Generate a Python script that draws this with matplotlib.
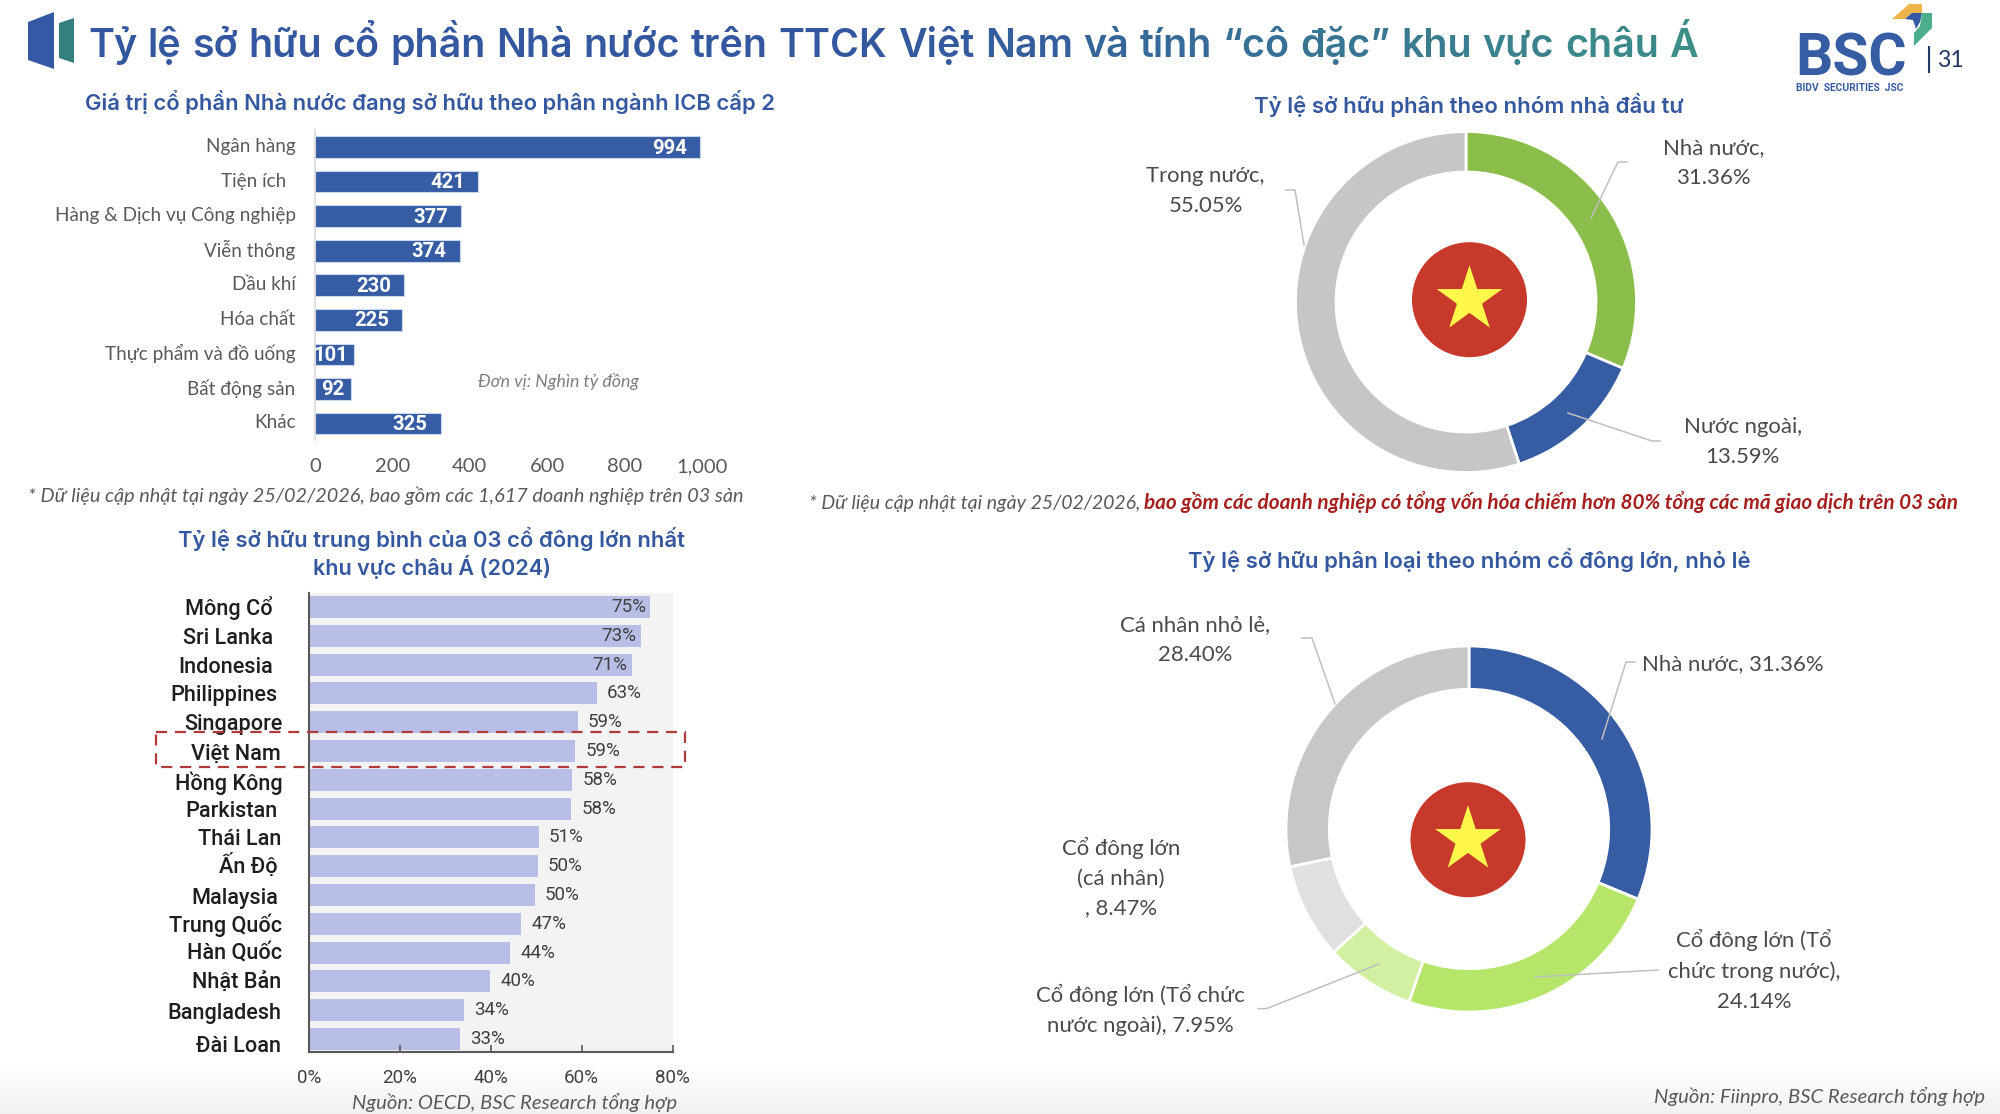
import numpy as np
import matplotlib
matplotlib.use("Agg")
import matplotlib.pyplot as plt
from matplotlib.patches import Polygon, Circle, Rectangle
from matplotlib.colors import to_rgb
from matplotlib.transforms import ScaledTranslation, IdentityTransform

W, H = 2000, 1114
plt.rcParams['font.family'] = ['Lato', 'Noto Sans', 'DejaVu Sans']
HEAD = ['Inter', 'Noto Sans']
COND = ['Roboto', 'Noto Sans']

# ---------- data ----------
title_text = "Tỷ lệ sở hữu cổ phần Nhà nước trên TTCK Việt Nam và tính “cô đặc” khu vực châu Á"

sector_names = ["Ngân hàng", "Tiện ích  ", "Hàng & Dịch vụ Công nghiệp", "Viễn thông", "Dầu khí",
                "Hóa chất", "Thực phẩm và đồ uống", "Bất động sản", "Khác"]
sector_values = [994, 421, 377, 374, 230, 225, 101, 92, 325]
sector_ticks = [0, 200, 400, 600, 800, 1000]

countries = ["Mông Cổ", "Sri Lanka", "Indonesia", "Philippines", "Singapore", "Việt Nam", "Hồng Kông",
             "Parkistan", "Thái Lan", "Ấn Độ", "Malaysia", "Trung Quốc", "Hàn Quốc", "Nhật Bản",
             "Bangladesh", "Đài Loan"]
top3_share = [75.0, 73.0, 71.0, 63.3, 59.2, 58.6, 57.9, 57.7, 50.6, 50.4, 49.7, 46.7, 44.3, 39.9, 34.1, 33.2]
share_ticks = [0, 20, 40, 60, 80]

investor_values = [31.36, 13.59, 55.05]
holder_values = [31.36, 24.14, 7.95, 8.47, 28.40]

# ---------- style ----------
BLUE = '#365CA4'
SUB = '#34589F'
GREY = '#595959'
investor_colors = ['#8BBD4B', BLUE, '#C6C6C8']
holder_colors = [BLUE, '#B5E66A', '#D2F0A2', '#E0E0E1', '#C7C7C9']

fig = plt.figure(figsize=(W / 100, H / 100), dpi=100, facecolor='white')
renderer = fig.canvas.get_renderer()


def rect(x0, y0, x1, y1):
    return [x0 / W, 1 - y1 / H, (x1 - x0) / W, (y1 - y0) / H]


# subtle grey fade at the foot of the slide
bg = fig.add_axes([0, 0, 1, 1], zorder=-5)
bg.axis('off')
fade = np.ones((H, 1))
fade[1060:, 0] = np.linspace(1.0, 0.945, H - 1060)
bg.imshow(fade, cmap='gray', vmin=0, vmax=1, aspect='auto')

# ---------- bar chart: sectors ----------
step = (423.5 - 147) / 8
ax1 = fig.add_axes(rect(315, 130, 702, 440), zorder=1)
ax1.set_xlim(0, 1000)
ax1.set_ylim(8 + (440 - 423.5) / step, -(147 - 130) / step)
ypos = np.arange(len(sector_values))
ax1.barh(ypos, sector_values, height=21.7 / step, color=BLUE, edgecolor='#C9D6EE', linewidth=0.8)
ax1.set_yticks(ypos, sector_names, fontsize=13.6, color=GREY)
ax1.set_xticks(sector_ticks, [f"{t:,}" for t in sector_ticks], fontsize=14.5, color=GREY)
ax1.tick_params(axis='both', length=0)
ax1.tick_params(axis='y', pad=14)
ax1.tick_params(axis='x', pad=13)
for lab in ax1.get_yticklabels():
    lab.set_transform(lab.get_transform() + ScaledTranslation(0, 2 / 100, fig.dpi_scale_trans))
for s in ['top', 'right', 'bottom']:
    ax1.spines[s].set_visible(False)
ax1.spines['left'].set_color('#D9D9D9')
ax1.spines['left'].set_linewidth(1.2)
for y, v in zip(ypos, sector_values):
    off = -13 if v > 150 else -6
    ax1.annotate(f"{v}", (v, y), xytext=(off, -1), textcoords='offset pixels', ha='right',
                 va='center', color='white', fontsize=14.6, fontweight='bold', family=COND)

# ---------- bar chart: top 3 share ----------
step2 = (1039 - 607) / 15
ax2 = fig.add_axes(rect(309, 593, 672.5, 1052), zorder=1, facecolor='#F3F3F3')
ax2.set_xlim(0, 80)
ax2.set_ylim(15 + (1052 - 1039) / step2, -(607 - 593) / step2)
ypos2 = np.arange(len(top3_share))
ax2.barh(ypos2, top3_share, height=22 / step2, color='#B8BEE6')
ax2.set_xticks(share_ticks, [f"{t}%" for t in share_ticks], fontsize=13.5, color='#404040', family=COND)
ax2.set_yticks([])
ax2.tick_params(axis='x', direction='in', length=5, color=GREY, pad=12, width=1.2)
for s in ['top', 'right']:
    ax2.spines[s].set_visible(False)
for s in ['left', 'bottom']:
    ax2.spines[s].set_color(GREY)
    ax2.spines[s].set_linewidth(1.5)
for y, v in zip(ypos2, top3_share):
    label = f"{v:.0f}%"
    if v > 70:
        ax2.annotate(label, (v, y), xytext=(-4, 0), textcoords='offset pixels', ha='right', va='center',
                     fontsize=13.5, color='#404040', family=COND)
    else:
        ax2.annotate(label, (v, y), xytext=(10, 0), textcoords='offset pixels', ha='left', va='center',
                     fontsize=13.5, color='#404040', family=COND)
label_right = [273, 273, 273, 277, 283, 281, 283, 278, 281, 278, 278, 282, 282, 281, 281, 281]
label_dy = [0, 2, 2, 1, 1, 2, 2, 2, 1, -1, 2, 0, 0, 1, 2, 6]
for y, name, xr, dy in zip(ypos2, countries, label_right, label_dy):
    ax2.annotate(name, (0, y), xytext=(xr - 309, -dy - 1), textcoords='offset pixels', ha='right', va='center',
                 fontsize=15.6, fontweight='medium', color='#1E1E1E', annotation_clip=False, family=COND)


# ---------- donuts ----------
def donut(cx, cy, R, r, values, colors):
    ax = fig.add_axes(rect(cx - R, cy - R, cx + R, cy + R), zorder=1)
    ax.pie(values, colors=colors, startangle=90, counterclock=False, radius=1,
           wedgeprops=dict(width=(R - r) / R, edgecolor='white', linewidth=2))
    ax.set_xlim(-1, 1)
    ax.set_ylim(-1, 1)
    return ax


donut(1466, 302, 170.5, 130, investor_values, investor_colors)
donut(1469, 829, 183, 139.7, holder_values, holder_colors)

# ---------- overlay in pixel coordinates ----------
ov = fig.add_axes([0, 0, 1, 1], zorder=5)
ov.set_xlim(0, W)
ov.set_ylim(H, 0)
ov.axis('off')
ov.patch.set_alpha(0)


def txt(x, y, s, size, w=None, ha='left', color='#404040', **kw):
    t = ov.text(x, y, s, fontsize=size, ha=ha, va='baseline', color=color, **kw)
    if w is not None:
        cur = t.get_window_extent(renderer).width
        size = size * w / cur
        t.set_fontsize(size)
    t.set_y(y + 0.36 * size * 100 / 72)
    return t


def flag(cx, cy, rc=57.5, rs=34.5):
    ov.add_patch(Circle((cx, cy), rc, color='#C73A2B', lw=0))
    ang = np.deg2rad(90 + 36 * np.arange(10))
    rad = np.where(np.arange(10) % 2 == 0, rs, rs * 0.382)
    ov.add_patch(Polygon(np.c_[cx + rad * np.cos(ang), cy - rad * np.sin(ang)], color='#FFF84A', lw=0))


flag(1469.5, 299.7)
flag(1468, 839.7)

for pts in [[(1627, 162), (1618, 162), (1591, 218)],
            [(1286, 190), (1295, 190), (1304, 245)],
            [(1568, 413), (1652, 441), (1660, 441)],
            [(1302, 638), (1312, 638), (1335, 704)],
            [(1635, 662), (1626, 662), (1602, 739)],
            [(1658, 970), (1535, 977)],
            [(1258, 1008.6), (1266.6, 1008.6), (1379, 964)]]:
    xs, ys = zip(*pts)
    ov.plot(xs, ys, color='#BFBFBF', lw=1.1)

# title icon
ov.add_patch(Polygon([(28, 22), (54, 12), (54, 69), (28, 60)], color='#3559A5', lw=0))
ov.add_patch(Polygon([(59, 23), (74, 18), (74, 63), (59, 58)], color='#33807F', lw=0))

# title with blue-to-teal wording
c0, c1 = np.array(to_rgb('#33589F')), np.array(to_rgb('#3C9088'))
words = title_text.split(' ')
title_size = 29.0
tkw = dict(fontweight='semibold', family=HEAD)
probe = ov.text(0, 0, title_text, fontsize=title_size, **tkw)
title_size *= 1598 / probe.get_window_extent(renderer).width
probe.set_fontsize(title_size)
full = probe.get_window_extent(renderer).width
probe.remove()
X0 = 88.0
x = X0
for i, word in enumerate(words):
    f = max(0.0, (x - X0 - 0.5 * full) / (0.5 * full))
    ov.text(x, 57, word, fontsize=title_size, color=c0 + (c1 - c0) * f, va='baseline', **tkw)
    m = ov.text(0, 0, ' '.join(words[:i + 1]) + ' |', fontsize=title_size, **tkw)
    b = ov.text(0, 0, '|', fontsize=title_size, **tkw)
    x = X0 + m.get_window_extent(renderer).width - b.get_window_extent(renderer).width + 0.8 * (i + 1)
    m.remove()
    b.remove()

# sub-titles
skw = dict(color=SUB, fontweight='semibold', family=HEAD)
txt(84.7, 102, "Giá trị cổ phần Nhà nước đang sở hữu theo phân ngành ICB cấp 2", 16, w=690, **skw)
txt(432, 539, "Tỷ lệ sở hữu trung bình của 03 cổ đông lớn nhất", 16, w=508, ha='center', **skw)
txt(432, 567, "khu vực châu Á (2024)", 16, w=238, ha='center', **skw)
txt(1469, 105, "Tỷ lệ sở hữu phân theo nhóm nhà đầu tư", 16, w=429, ha='center', **skw)
txt(1469, 560.5, "Tỷ lệ sở hữu phân loại theo nhóm cổ đông lớn, nhỏ lẻ", 16, w=562, ha='center', **skw)

# notes
txt(28, 495, "* Dữ liệu cập nhật tại ngày 25/02/2026, bao gồm các 1,617 doanh nghiệp trên 03 sàn", 13, w=714, color=GREY, style='italic')
txt(478, 381, "Đơn vị: Nghìn tỷ đồng", 11, w=161, color='#7F7F7F', style='italic')
txt(352, 1102, "Nguồn: OECD, BSC Research tổng hợp", 13, w=325, color=GREY, style='italic')
txt(809, 502, "* Dữ liệu cập nhật tại ngày 25/02/2026,", 13, w=331, color=GREY, style='italic')
txt(1144, 502, "bao gồm các doanh nghiệp có tổng vốn hóa chiếm hơn 80% tổng các mã giao dịch trên 03 sàn", 13, w=814,
    color='#A6201E', style='italic', fontweight='bold')
txt(1985, 1096, "Nguồn: Fiinpro, BSC Research tổng hợp", 13, w=330, ha='right', color=GREY, style='italic')

# donut labels
LBL = 15.9
for x_, y_, s in [(1714, 146, "Nhà nước,"), (1714, 176, "31.36%"),
                  (1205.5, 174, "Trong nước,"), (1205.5, 204, "55.05%"),
                  (1742.6, 425, "Nước ngoài,"), (1742.6, 455, "13.59%"),
                  (1195, 623, "Cá nhân nhỏ lẻ,"), (1195, 653, "28.40%"),
                  (1121, 847, "Cổ đông lớn"), (1121, 877, "(cá nhân)"), (1121, 906, ", 8.47%"),
                  (1754, 939, "Cổ đông lớn (Tổ"), (1754, 969.6, "chức trong nước),"), (1754, 1000, "24.14%"),
                  (1140, 994, "Cổ đông lớn (Tổ chức"), (1140, 1023.6, "nước ngoài), 7.95%")]:
    txt(x_, y_, s, LBL, ha='center', color='#4A4A4A')
txt(1642, 662, "Nhà nước, 31.36%", LBL, ha='left', color='#4A4A4A')

# logo
ov.add_patch(Polygon([(1892, 19), (1909, 4), (1922, 4), (1922, 13), (1912, 13), (1905, 19)], color='#EDB44A', lw=0))
ov.add_patch(Polygon([(1905, 19), (1912, 13), (1922, 13), (1920, 22), (1916, 29), (1913, 20)], color='#3559A5', lw=0))
ov.add_patch(Polygon([(1922, 13), (1932, 13), (1932, 28), (1914, 46), (1914, 33), (1920, 26)], color='#4DAE8B', lw=0))
t = ov.text(1795, 75, "BSC", fontsize=44, fontweight='bold', color=BLUE, ha='left', va='baseline', family=COND)
t.set_fontsize(44 * 112 / t.get_window_extent(renderer).width)
txt(1796, 87, "BIDV  SECURITIES  JSC", 6, w=108, color=BLUE, fontweight='bold', family=COND)
ov.plot([1929, 1929], [47, 72], color='#1F3864', lw=1.5)
txt(1937, 59, "31", 19, w=27, color='#1F3864')

# highlight box for Việt Nam
ov.add_patch(Rectangle((156, 732), 529, 34.5, fill=False, ls=(0, (5, 3.5)), ec='#B0393A', lw=1.6))

fig.savefig('out.png', dpi=100, facecolor='white')
